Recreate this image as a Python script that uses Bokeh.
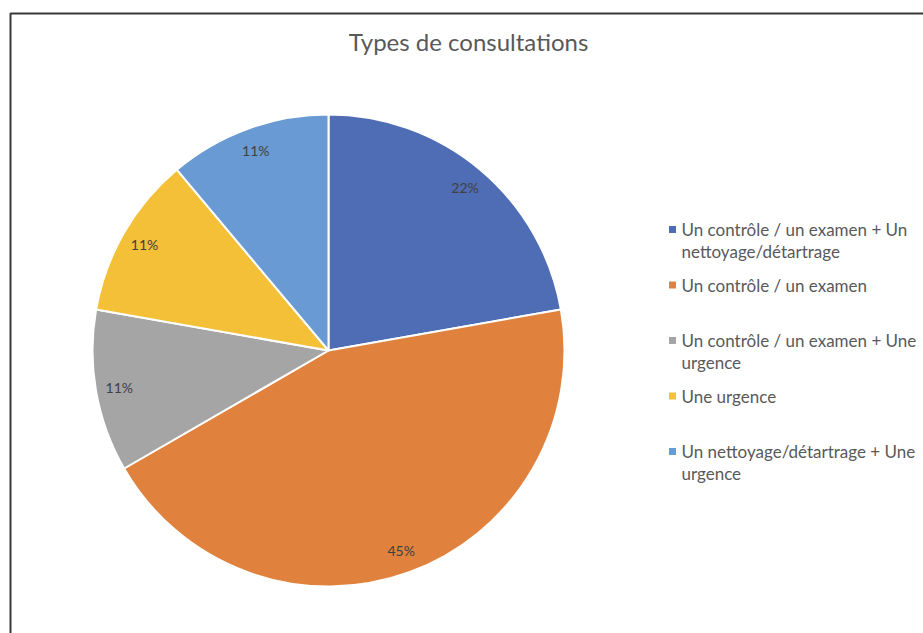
import math
import textwrap
from bokeh.plotting import figure
from bokeh.models import ColumnDataSource, BoxAnnotation
from bokeh.core.properties import value
from bokeh.embed import file_html
from bokeh.resources import INLINE

# ---- data ----
title = "Types de consultations"
categories = [
    "Un contrôle / un examen + Un nettoyage/détartrage",
    "Un contrôle / un examen",
    "Un contrôle / un examen + Une urgence",
    "Une urgence",
    "Un nettoyage/détartrage + Une urgence",
]
counts = [2, 4, 1, 1, 1]
pct_labels = ["22%", "45%", "11%", "11%", "11%"]
colors = ["#4E6DB4", "#E0823D", "#A5A5A5", "#F4C038", "#6A9AD3"]

W, H = 923, 633
FONT = "Lato"
TXT = "#595959"

p = figure(width=W, height=H, x_range=(0, W), y_range=(0, H),
           output_backend="svg", toolbar_location=None, min_border=0,
           x_axis_location=None, y_axis_location=None)
p.grid.visible = False
p.outline_line_color = None
p.background_fill_color = "white"
p.border_fill_color = "white"

# frame of the chart area (screenshot border)
p.add_layout(BoxAnnotation(left=10, right=W + 20, bottom=-20, top=H - 13,
                           fill_color=None, fill_alpha=0, line_color="#383838",
                           line_alpha=1, line_width=2))

# ---- pie ----
cx, cy, r = 328, H - 350, 236
total = sum(counts)
cum = [0.0]
for c in counts:
    cum.append(cum[-1] + c / total)
start = [math.pi / 2 - 2 * math.pi * cum[i] for i in range(len(counts))]
end = [math.pi / 2 - 2 * math.pi * cum[i + 1] for i in range(len(counts))]
mid = [(s + e) / 2 for s, e in zip(start, end)]
src = ColumnDataSource(dict(start=start, end=end, color=colors,
                            lx=[cx + 0.9 * r * math.cos(m) for m in mid],
                            ly=[cy + 0.9 * r * math.sin(m) for m in mid],
                            lab=pct_labels))
p.wedge(x=cx, y=cy, radius=r, start_angle="start", end_angle="end",
        direction="clock", fill_color="color", line_color="white",
        line_width=2, source=src)
p.text(x="lx", y="ly", text="lab", source=src, text_font=value(FONT),
       text_font_size="14px", text_color="#404040", text_align="center",
       text_baseline="middle")

# ---- title ----
p.text(x=[468], y=[H - 41], text=[title], text_font=value(FONT),
       text_font_size="24px", text_color=TXT, text_align="center",
       text_baseline="middle")

# ---- legend ----
lx0, ly0, step, lh = 681, H - 229, 55.5, 22
mx, my = [], []
tx, ty, tt = [], [], []
for i, cat in enumerate(categories):
    y = ly0 - i * step
    mx.append(lx0 - 9)
    my.append(y)
    for j, line in enumerate(textwrap.wrap(cat, width=29)):
        tx.append(lx0)
        ty.append(y - j * lh)
        tt.append(line)
p.scatter(x=mx, y=my, marker="square", size=7, fill_color=colors,
          line_color=None)
p.text(x=tx, y=ty, text=tt, text_font=value(FONT), text_font_size="17px",
       text_color=TXT, text_align="left", text_baseline="middle")

open("out.html", "w").write(file_html(p, INLINE))
